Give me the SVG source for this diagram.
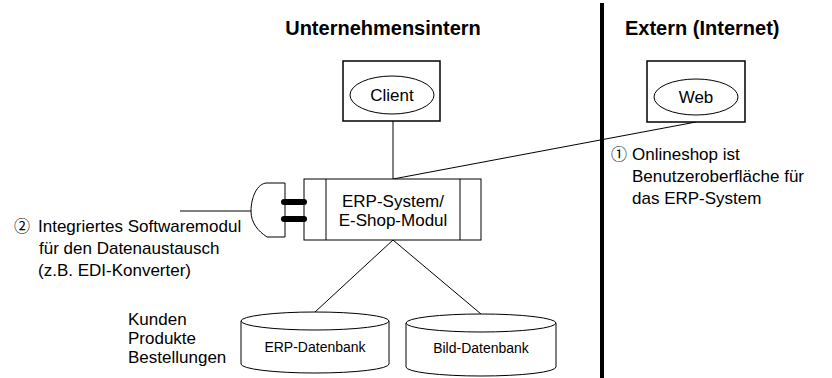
<svg xmlns="http://www.w3.org/2000/svg" width="832" height="378" viewBox="0 0 832 378">
<style>
  text { font-family: "Liberation Sans", Arial, sans-serif; fill: #000; }
  .h { font-size: 20px; font-weight: bold; }
  .t { font-size: 17px; }
  .s { font-size: 14px; }
  .c { text-anchor: middle; }
  .num { font-family: "Noto Sans CJK JP", "DejaVu Sans", sans-serif; font-size: 16px; text-anchor: middle; }
  .ln { stroke: #000; stroke-width: 1; fill: none; }
  .box { stroke: #000; stroke-width: 1.5; fill: #fff; }
  .thin { stroke: #000; stroke-width: 1; fill: #fff; }
  .bar { stroke: #000; stroke-width: 6; stroke-linecap: round; }
</style>
<rect width="832" height="378" fill="#fff"/>

<g id="headings">
  <text class="h c" x="383" y="35">Unternehmensintern</text>
  <text class="h" x="625" y="35">Extern (Internet)</text>
</g>

<g id="divider">
  <line x1="602" y1="3" x2="602" y2="378" stroke="#000" stroke-width="4"/>
</g>

<g id="connectors">
  <line class="ln" x1="393" y1="121" x2="393" y2="179"/>
  <line class="ln" x1="393" y1="179" x2="696" y2="122"/>
  <line class="ln" x1="393" y1="240" x2="315" y2="312"/>
  <line class="ln" x1="393" y1="240" x2="481" y2="314"/>
  <line class="ln" x1="180" y1="211" x2="251" y2="211"/>
</g>

<g id="client">
  <rect class="box" x="343" y="61" width="97" height="60"/>
  <ellipse class="thin" cx="392" cy="95" rx="42" ry="19"/>
  <text class="t c" x="392" y="101">Client</text>
</g>

<g id="web">
  <rect class="box" x="647" y="61" width="98" height="61"/>
  <ellipse class="thin" cx="696" cy="97" rx="42" ry="18"/>
  <text class="t c" x="696" y="103">Web</text>
</g>

<g id="erp">
  <rect class="thin" x="304" y="179" width="177" height="61"/>
  <line class="ln" x1="326" y1="179" x2="326" y2="240"/>
  <line class="ln" x1="460" y1="179" x2="460" y2="240"/>
  <text class="t c" x="393" y="207">ERP-System/</text>
  <text class="t c" x="393" y="226">E-Shop-Modul</text>
</g>

<g id="adapter">
  <path class="thin" d="M285,183 H267 C257,183 251,198 251,211 C251,223 258,231 267,237 H285 Z"/>
  <line class="bar" x1="284" y1="202" x2="304" y2="202"/>
  <line class="bar" x1="284" y1="219" x2="304" y2="219"/>
</g>

<g id="erp-db">
  <path class="thin" d="M241,321 V364 A74,9 0 0 0 389,364 V321"/>
  <ellipse class="thin" cx="315" cy="321" rx="74" ry="9"/>
  <text class="s c" x="315" y="352">ERP-Datenbank</text>
</g>

<g id="bild-db">
  <path class="thin" d="M406,323 V367 A75,9 0 0 0 556,367 V323"/>
  <ellipse class="thin" cx="481" cy="323" rx="75" ry="9"/>
  <text class="s c" x="481" y="353">Bild-Datenbank</text>
</g>

<g id="label-1">
  <text class="num" x="619" y="160">①</text>
  <text class="t" x="632" y="160">Onlineshop ist</text>
  <text class="t" x="632" y="182">Benutzeroberfläche für</text>
  <text class="t" x="632" y="204">das ERP-System</text>
</g>

<g id="label-2">
  <text class="num" x="22" y="232">②</text>
  <text class="t" x="38" y="232">Integriertes Softwaremodul</text>
  <text class="t" x="39" y="254">für den Datenaustausch</text>
  <text class="t" x="38" y="276">(z.B. EDI-Konverter)</text>
</g>

<g id="label-db">
  <text class="t" x="128" y="325">Kunden</text>
  <text class="t" x="128" y="344">Produkte</text>
  <text class="t" x="128" y="363">Bestellungen</text>
</g>
</svg>
